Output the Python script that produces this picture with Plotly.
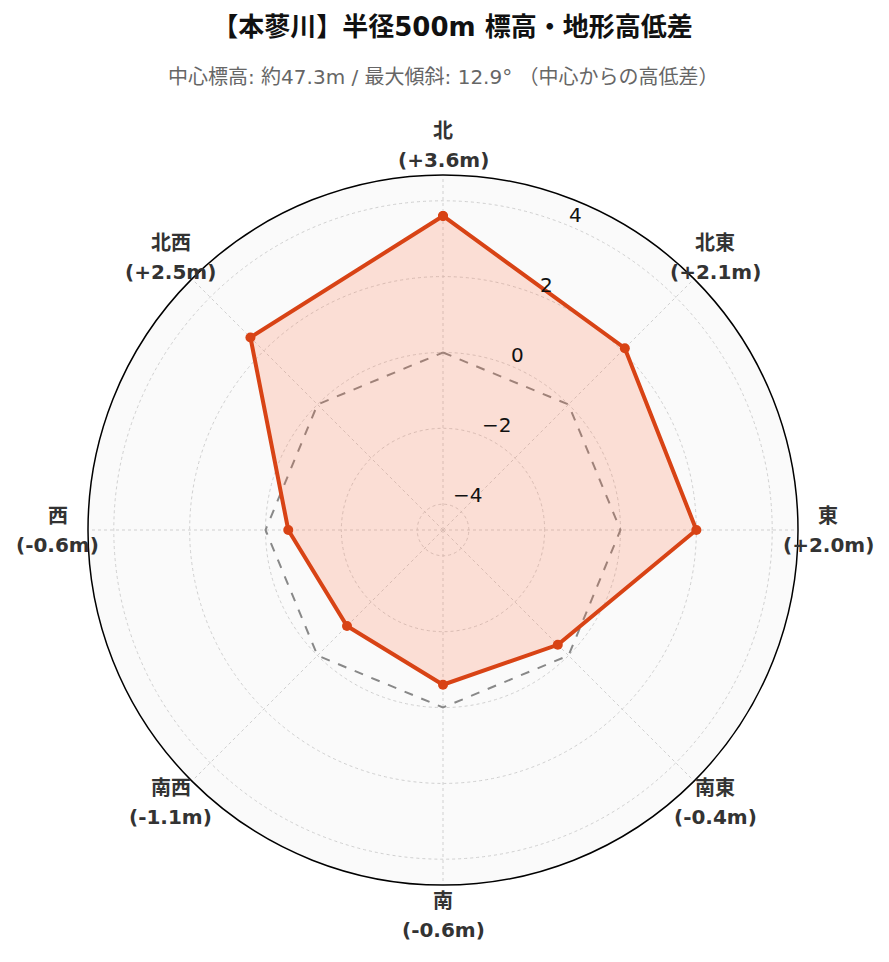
import math
import plotly.graph_objects as go

directions = ["北", "北東", "東", "南東", "南", "南西", "西", "北西"]
angles = [0, 45, 90, 135, 180, 225, 270, 315]
diffs = [3.6, 2.1, 2.0, -0.4, -0.6, -1.1, -0.6, 2.5]
ref_zero = [0, 0, 0, 0, 0, 0, 0, 0]
radial_ticks = [-4, -2, 0, 2, 4]
radial_tick_text = ["−4", "−2", "0", "2", "4"]

title_text = "【本蓼川】半径500m 標高・地形高低差"
subtitle_text = "中心標高: 約47.3m / 最大傾斜: 12.9° （中心からの高低差）"

rmax = max(abs(v) for v in diffs) * 1.3
rmin = -rmax

font = "DejaVu Sans, Noto Sans CJK JP"

W, H = 889, 962
L, T, R = 80, 167, 355
B = H - T - 2 * R
LABEL_R = 385          # px from centre for direction labels
RLABEL_ANGLE = 67.5    # degrees (math convention) for radial tick labels

fig = go.Figure()
fig.add_trace(go.Scatterpolar(
    r=ref_zero + [ref_zero[0]], theta=angles + [angles[0]],
    mode="lines", line=dict(color="#888888", width=2, dash="dash"),
    hoverinfo="skip", showlegend=False))
fig.add_trace(go.Scatterpolar(
    r=diffs + [diffs[0]], theta=angles + [angles[0]],
    mode="lines+markers", fill="toself",
    fillcolor="rgba(255,112,67,0.2)",
    line=dict(color="#d84315", width=4),
    marker=dict(color="#d84315", size=10),
    showlegend=False))

annotations = [dict(text=subtitle_text, x=0.5, xref="paper",
                    y=(H - 69 - B) / (2 * R), yref="paper", yanchor="middle",
                    showarrow=False, font=dict(size=20, color="#666666", family=font))]

# direction labels (centred, two lines)
for d, a, v in zip(directions, angles, diffs):
    th = math.radians(a)
    x = 0.5 + LABEL_R * math.sin(th) / (2 * R)
    y = 0.5 + LABEL_R * math.cos(th) / (2 * R)
    for txt, ys in ((d, 14.5), (f"({v:+.1f}m)", -14.5)):
        annotations.append(dict(text=f"<b>{txt}</b>", x=x, y=y, xref="paper", yref="paper",
                                xanchor="center", yanchor="middle", yshift=ys,
                                showarrow=False,
                                font=dict(size=20, color="#333333", family=font)))

# radial tick labels along the 67.5 deg ray, anchored bottom-left
ca, sa = math.cos(math.radians(RLABEL_ANGLE)), math.sin(math.radians(RLABEL_ANGLE))
for tv, tt in zip(radial_ticks, radial_tick_text):
    frac = (tv - rmin) / (rmax - rmin)
    annotations.append(dict(text=tt, x=0.5 + frac * 0.5 * ca, y=0.5 + frac * 0.5 * sa,
                            xref="paper", yref="paper", xanchor="left", yanchor="bottom",
                            xshift=-2, yshift=-3,
                            showarrow=False, font=dict(size=20, color="#111111", family=font)))

fig.update_layout(
    width=W, height=H,
    paper_bgcolor="white",
    margin=dict(l=L, r=W - L - 2 * R, t=T, b=B),
    font=dict(family=font, color="#333333"),
    title=dict(text=f"<b>{title_text}</b>",
               x=0.5, xanchor="center", y=1 - 19 / H, yanchor="middle",
               font=dict(size=26, color="#111111", family=font)),
    annotations=annotations,
    polar=dict(
        bgcolor="#fafafa",
        domain=dict(x=[0, 1], y=[0, 1]),
        radialaxis=dict(range=[rmin, rmax], tickvals=radial_ticks,
                        showticklabels=False, showline=False,
                        gridcolor="#d0d0d0", griddash="dot", gridwidth=1, ticks=""),
        angularaxis=dict(rotation=90, direction="clockwise",
                         tickvals=angles, showticklabels=False,
                         showline=True, linecolor="black", linewidth=1.5,
                         gridcolor="#d0d0d0", griddash="dot", ticks=""),
    ),
)
fig.write_html("out.html")
